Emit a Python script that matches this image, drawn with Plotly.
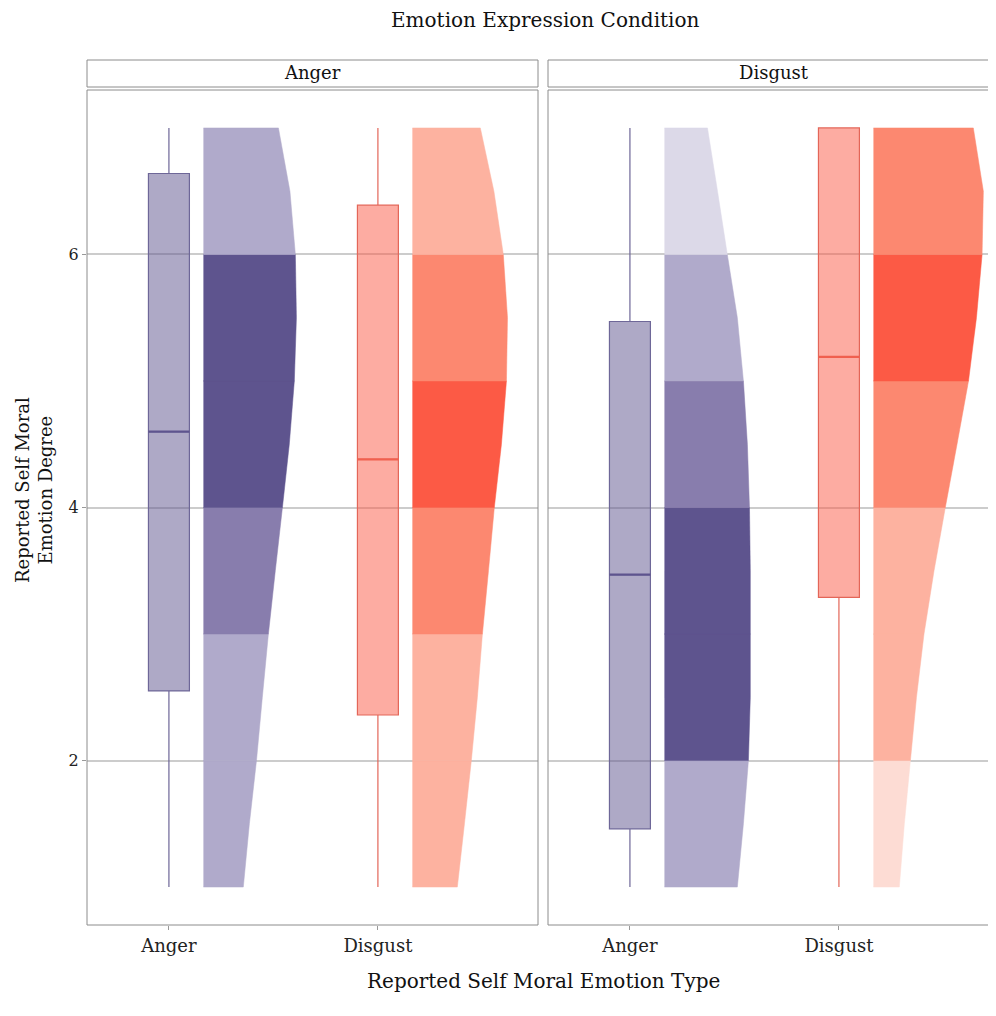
import plotly.graph_objects as go

# ---------------- data ----------------
conditions = ["Anger", "Disgust"]          # facet: Emotion Expression Condition
categories = ["Anger", "Disgust"]          # x: Reported Self Moral Emotion Type
y_grid = [1, 1.5, 2, 2.5, 3, 3.5, 4, 4.5, 5, 5.5, 6, 6.5, 7]

# slab thickness (density, in x units) read at each y_grid value
slab_angercond_anger = [0.191, 0.220, 0.254, 0.282, 0.311, 0.344, 0.378, 0.411, 0.435, 0.445, 0.440, 0.414, 0.359]
slab_angercond_disgust = [0.215, 0.249, 0.282, 0.311, 0.335, 0.364, 0.392, 0.426, 0.450, 0.455, 0.435, 0.390, 0.325]
slab_disgustcond_anger = [0.349, 0.378, 0.402, 0.411, 0.411, 0.411, 0.407, 0.397, 0.378, 0.349, 0.301, 0.254, 0.206]
slab_disgustcond_disgust = [0.124, 0.148, 0.177, 0.206, 0.242, 0.290, 0.344, 0.400, 0.455, 0.493, 0.520, 0.526, 0.478]

# interval level of each band 1-2, 2-3, ..., 6-7 (0 lightest .. 3 darkest)
band_angercond_anger = [1, 1, 2, 3, 3, 1]
band_angercond_disgust = [1, 1, 2, 3, 2, 1]
band_disgustcond_anger = [1, 3, 3, 2, 1, 0]
band_disgustcond_disgust = [0, 1, 1, 2, 3, 2]

# box statistics [lower whisker, q1, median, q3, upper whisker]
box_angercond_anger = [1, 2.55, 4.60, 6.64, 7]
box_angercond_disgust = [1, 2.36, 4.38, 6.39, 7]
box_disgustcond_anger = [1, 1.46, 3.47, 5.47, 7]
box_disgustcond_disgust = [1, 3.29, 5.19, 7.0, 7]

# ---------------- style ----------------
FONT = "DejaVu Serif"
purple_ramp = ["#DCD9E8", "#B0AACB", "#887DAD", "#5E548E"]
red_ramp = ["#FDDCD4", "#FDB2A0", "#FC8870", "#FC5A45"]
box_fill = {"Anger": "rgba(94,84,142,0.5)", "Disgust": "rgba(252,90,69,0.5)"}
box_line = {"Anger": "#6E6798", "Disgust": "#E36658"}
median_col = {"Anger": "#5E548E", "Disgust": "#F0604F"}
ramps = {"Anger": purple_ramp, "Disgust": red_ramp}
SLAB_OFFSET = 0.165
BOX_WIDTH = 0.196

OFF = 8                      # page offset of the figure (body margin)
W, H = 996 - OFF, 1016 - OFF
PL, PR, PT, PB = 87, 996, 90, 925   # plot area in page pixels
ML, MR, MT, MB = PL - OFF, (OFF + W) - PR, PT - OFF, (OFF + H) - PB
PW = PR - PL
PH = PB - PT
px_x = lambda p: (p - PL) / PW
px_y = lambda p: (PB - p) / PH

panels = {
    "Anger": {"xa": "x", "ya": "y",
              "slabs": {"Anger": slab_angercond_anger, "Disgust": slab_angercond_disgust},
              "bands": {"Anger": band_angercond_anger, "Disgust": band_angercond_disgust},
              "boxes": {"Anger": box_angercond_anger, "Disgust": box_angercond_disgust}},
    "Disgust": {"xa": "x2", "ya": "y2",
                "slabs": {"Anger": slab_disgustcond_anger, "Disgust": slab_disgustcond_disgust},
                "bands": {"Anger": band_disgustcond_anger, "Disgust": band_disgustcond_disgust},
                "boxes": {"Anger": box_disgustcond_anger, "Disgust": box_disgustcond_disgust}},
}

fig = go.Figure()

for cond in conditions:
    p = panels[cond]
    for ci, cat in enumerate(categories):
        xc = ci + 1
        # slab bands
        thick = p["slabs"][cat]
        levels = p["bands"][cat]
        for b, lvl in enumerate(levels):
            lo, hi = b + 1, b + 2
            idx = [i for i, yv in enumerate(y_grid) if lo <= yv <= hi]
            ys = [y_grid[i] for i in idx]
            xs = [xc + SLAB_OFFSET + thick[i] for i in idx]
            px = [xc + SLAB_OFFSET] + xs + [xc + SLAB_OFFSET]
            py = [ys[0]] + ys + [ys[-1]]
            fig.add_trace(go.Scatter(
                x=px, y=py, mode="lines", fill="toself",
                fillcolor=ramps[cat][lvl], line=dict(width=0.5, color=ramps[cat][lvl]),
                hoverinfo="skip", showlegend=False, xaxis=p["xa"], yaxis=p["ya"]))
        # box
        lw, q1, med, q3, uw = p["boxes"][cat]
        fig.add_trace(go.Box(
            x=[xc], lowerfence=[lw], q1=[q1], median=[med], q3=[q3], upperfence=[uw],
            width=BOX_WIDTH, whiskerwidth=0, boxpoints=False,
            fillcolor=box_fill[cat], line=dict(color=box_line[cat], width=1.2),
            showlegend=False, xaxis=p["xa"], yaxis=p["ya"]))
        # thicker median line
        fig.add_trace(go.Scatter(
            x=[xc - BOX_WIDTH / 2, xc + BOX_WIDTH / 2], y=[med, med], mode="lines",
            line=dict(color=median_col[cat], width=2.2), hoverinfo="skip",
            showlegend=False, xaxis=p["xa"], yaxis=p["ya"]))

x1_dom = [0, 451 / PW]
x2_dom = [461 / PW, 1]
common_x = dict(tickmode="array", tickvals=[1, 2], ticktext=categories,
                showgrid=False, zeroline=False, ticks="outside", ticklen=4,
                tickcolor="#999999", tickfont=dict(family=FONT, size=18, color="#222222"))
common_y = dict(range=[0.7, 7.3], tickvals=[2, 4, 6], showgrid=True, gridcolor="#CCCCCC",
                gridwidth=1.5, zeroline=False)

shapes = [
    # panel borders
    dict(type="rect", xref="paper", yref="paper", x0=x1_dom[0], x1=x1_dom[1], y0=0, y1=1,
         line=dict(color="#8C8C8C", width=1), layer="above"),
    dict(type="rect", xref="paper", yref="paper", x0=x2_dom[0], x1=1.01, y0=0, y1=1,
         line=dict(color="#8C8C8C", width=1), layer="above"),
    # strips
    dict(type="rect", xref="paper", yref="paper", x0=x1_dom[0], x1=x1_dom[1],
         y0=px_y(87), y1=px_y(60), fillcolor="white", line=dict(color="#8C8C8C", width=1)),
    dict(type="rect", xref="paper", yref="paper", x0=x2_dom[0], x1=1.01,
         y0=px_y(87), y1=px_y(60), fillcolor="white", line=dict(color="#8C8C8C", width=1)),
]

annotations = [
    dict(text="Emotion Expression Condition", x=px_x(545), y=px_y(20), xref="paper", yref="paper",
         showarrow=False, font=dict(family=FONT, size=20, color="#111111"), xanchor="center", yanchor="middle"),
    dict(text="Anger", x=px_x(312), y=px_y(73), xref="paper", yref="paper",
         showarrow=False, font=dict(family=FONT, size=18, color="#111111"), xanchor="center", yanchor="middle"),
    dict(text="Disgust", x=px_x(774), y=px_y(73), xref="paper", yref="paper",
         showarrow=False, font=dict(family=FONT, size=18, color="#111111"), xanchor="center", yanchor="middle"),
    dict(text="Reported Self Moral Emotion Type", x=px_x(543), y=px_y(981), xref="paper", yref="paper",
         showarrow=False, font=dict(family=FONT, size=20, color="#111111"), xanchor="center", yanchor="middle"),
    dict(text="Reported Self Moral<br>Emotion Degree", x=px_x(34), y=px_y(490), xref="paper", yref="paper",
         showarrow=False, textangle=-90, font=dict(family=FONT, size=18, color="#111111"),
         xanchor="center", yanchor="middle"),
]

fig.update_layout(
    width=W, height=H,
    margin=dict(l=ML, r=MR, t=MT, b=MB, pad=0),
    paper_bgcolor="white", plot_bgcolor="white",
    xaxis=dict(domain=x1_dom, range=[0.608, 2.766], anchor="y", **common_x),
    xaxis2=dict(domain=x2_dom, range=[0.608, 0.608 + 448 / 209], anchor="y2", **common_x),
    yaxis=dict(domain=[0, 1], anchor="x", ticks="outside", ticklen=4, tickcolor="#999999",
               tickfont=dict(family=FONT, size=16, color="#222222"), **common_y),
    yaxis2=dict(domain=[0, 1], anchor="x2", matches="y", showticklabels=False, ticks="", **common_y),
    shapes=shapes, annotations=annotations, showlegend=False,
)

fig.write_html("out.html")
